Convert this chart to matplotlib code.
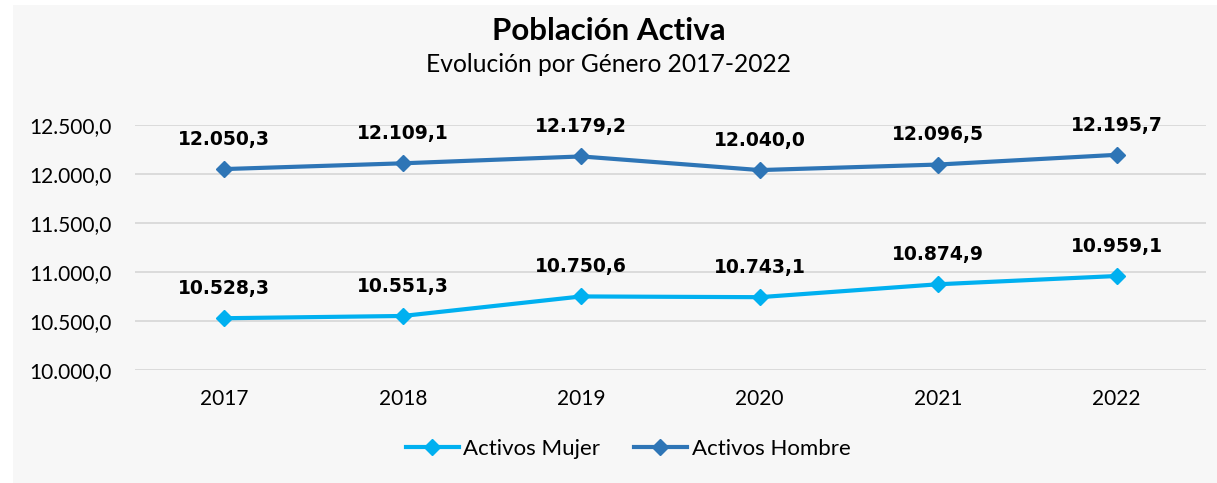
import matplotlib
matplotlib.use("Agg")
import matplotlib.pyplot as plt
from matplotlib.patches import Rectangle

years = ["2017", "2018", "2019", "2020", "2021", "2022"]
mujer = [10528.3, 10551.3, 10750.6, 10743.1, 10874.9, 10959.1]
hombre = [12050.3, 12109.1, 12179.2, 12040.0, 12096.5, 12195.7]
yticks = [10000, 10500, 11000, 11500, 12000, 12500]

def fmt(v):
    s = f"{v:,.1f}"
    return s.replace(",", "X").replace(".", ",").replace("X", ".")

FONT = "Lato"
W, H = 1217, 483
fig = plt.figure(figsize=(W / 100, H / 100), dpi=100)
fig.patch.set_facecolor("white")
bg = Rectangle((13 / W, 0), 1 - 13 / W, (H - 5) / H, transform=fig.transFigure,
               facecolor="#F7F7F7", edgecolor="none", zorder=-10)
fig.add_artist(bg)

ax = fig.add_axes([135 / W, 113 / H, (1206 - 135) / W, (370 - 125) / H])
ax.set_facecolor("none")
ax.set_zorder(1)
x = list(range(len(years)))
c_m = "#00B0F0"
c_h = "#2E75B6"
ax.plot(x, mujer, color=c_m, lw=3, marker="D", ms=8, label="Activos Mujer", zorder=3)
ax.plot(x, hombre, color=c_h, lw=3, marker="D", ms=8, label="Activos Hombre", zorder=3)

for series in (mujer, hombre):
    for xi, v in zip(x, series):
        ax.annotate(fmt(v), (xi, v), xytext=(0, 17.5), textcoords="offset points", ha="center",
                    va="baseline", fontsize=13.5, fontweight="bold", family="DejaVu Sans",
                    color="black")

ax.set_xlim(-0.5, len(years) - 0.5)
ax.set_ylim(10000, 12500)
ax.set_yticks(yticks)
ax.set_yticklabels([fmt(v) for v in yticks], family=FONT, fontsize=15)
ax.set_xticks(x)
ax.set_xticklabels(years, family=FONT, fontsize=15)
ax.grid(axis="y", color="#D9D9D9", lw=1.3)
ax.set_axisbelow(True)
for s in ax.spines.values():
    s.set_visible(False)
ax.tick_params(length=0)
ax.tick_params(axis="x", pad=14)
ax.tick_params(axis="y", pad=17)

fig.text(609 / W, 1 - 31 / H, "Población Activa", ha="center", va="center", family=FONT,
         fontsize=22.5, fontweight="bold")
fig.text(609 / W, 1 - 64 / H, "Evolución por Género 2017-2022", ha="center", va="center",
         family=FONT, fontsize=17.7)

fig.legend(loc="center", bbox_to_anchor=(628 / W, 1 - 449 / H), ncol=2, frameon=False,
           prop={"family": FONT, "size": 16}, handlelength=2.4, columnspacing=1.5,
           handletextpad=0.2)

fig.savefig("out.png", dpi=100, facecolor="white")
